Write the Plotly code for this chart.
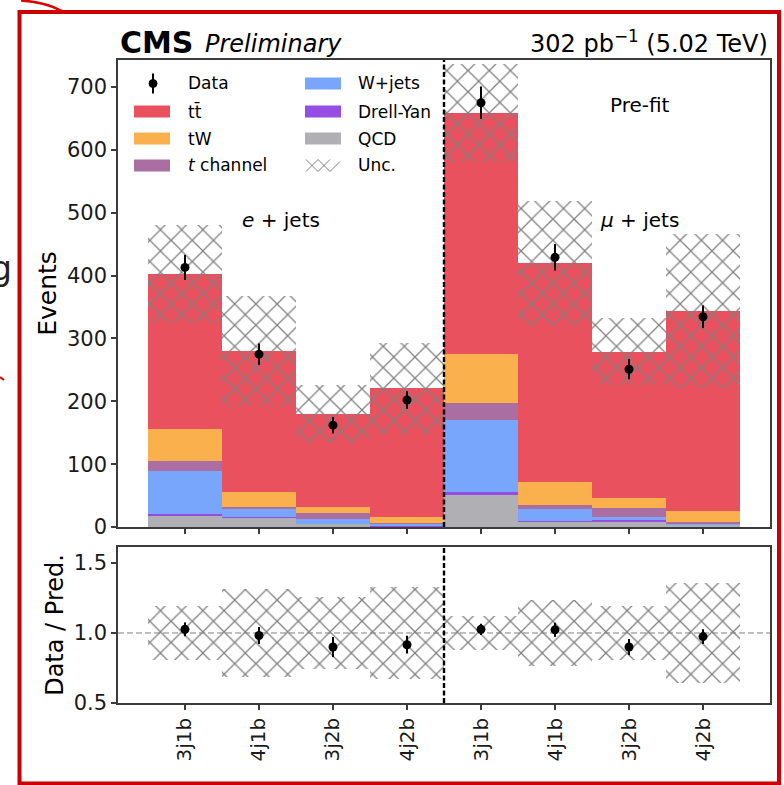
import numpy as np
import plotly.graph_objects as go

# ---- event yields per category (e+jets: first four, mu+jets: last four) ----
categories = ["3j1b", "4j1b", "3j2b", "4j2b", "3j1b", "4j1b", "3j2b", "4j2b"]

qcd = [18, 15, 5, 1.5, 51, 9.5, 8.5, 3.5]
drell_yan = [2, 0.5, 0.5, 0.5, 4.5, 0.5, 2, 0.3]
w_jets = [69.5, 13.5, 7, 3, 115.5, 18.5, 6, 1]
t_channel = [15, 3, 9, 2, 25.5, 6.5, 14, 3.5]
tw = [52, 23.5, 10, 9.5, 79, 36.5, 15, 17]
ttbar = [246, 224.5, 148.5, 204, 382.5, 348, 233.5, 318]

unc = [77.5, 87.5, 46, 73, 78, 99.5, 53, 122.5]
data = [413, 275, 162, 202, 675, 429, 251, 334.5]
data_err = [20, 17, 13, 14, 26, 21, 16, 18]

# stacking order bottom -> top, with colours
processes = [
    ("QCD", qcd, "#b0b0b4"),
    ("Drell-Yan", drell_yan, "#954de4"),
    ("W+jets", w_jets, "#79a6fd"),
    ("t channel", t_channel, "#ab6ea2"),
    ("tW", tw, "#f9b04d"),
    ("ttbar", ttbar, "#e9515e"),
]

# ---- page geometry (pixels) ----
W, H = 784, 785
ML, MR, MT, MB = 118, 14, 60, 82
PW, PH = W - ML - MR, H - MT - MB


def px(x):
    return (x - ML) / PW


def py(y):
    return (H - MB - y) / PH


FONT = "DejaVu Sans"
HATCH = "#7f7f7f"
AXC = "#3c3c3c"

x = np.arange(len(categories))
fig = go.Figure()

bottom = np.zeros(len(categories))
for name, vals, color in processes:
    v = np.asarray(vals, dtype=float)
    fig.add_trace(go.Bar(
        x=x, y=v, base=bottom.copy(), width=1, name=name,
        marker=dict(color=color, line=dict(width=0)),
        showlegend=False, xaxis="x", yaxis="y", hoverinfo="skip"))
    bottom += v
total = bottom
unc_a = np.asarray(unc, dtype=float)
data_a = np.asarray(data, dtype=float)
derr_a = np.asarray(data_err, dtype=float)

hatch = dict(shape="x", fgcolor=HATCH, fgopacity=1, bgcolor="rgba(0,0,0,0)",
             size=15, solidity=0.16, fillmode="overlay")

# uncertainty band on the stack
fig.add_trace(go.Bar(
    x=x, y=2 * unc_a, base=total - unc_a, width=1, name="Unc.",
    marker=dict(color="rgba(0,0,0,0)", line=dict(width=0), pattern=hatch),
    showlegend=False, xaxis="x", yaxis="y", hoverinfo="skip"))

# data points
fig.add_trace(go.Scatter(
    x=x, y=data_a, mode="markers", name="Data",
    marker=dict(color="black", size=9),
    error_y=dict(type="data", array=derr_a, color="black", thickness=2, width=0),
    showlegend=False, xaxis="x", yaxis="y"))

# ---- ratio panel ----
rel = unc_a / total
fig.add_trace(go.Bar(
    x=x, y=2 * rel, base=1 - rel, width=1,
    marker=dict(color="rgba(0,0,0,0)", line=dict(width=0), pattern=hatch),
    showlegend=False, xaxis="x2", yaxis="y2", hoverinfo="skip"))
fig.add_trace(go.Scatter(
    x=x, y=data_a / total, mode="markers",
    marker=dict(color="black", size=9),
    error_y=dict(type="data", array=derr_a / total, color="black", thickness=2, width=0),
    showlegend=False, xaxis="x2", yaxis="y2"))

tickfont = dict(family=FONT, size=21, color="#1a1a1a")
common_axis = dict(showline=True, linecolor=AXC, linewidth=1.5, mirror=True,
                   ticks="outside", ticklen=5, tickwidth=1.5, tickcolor=AXC,
                   showgrid=False, zeroline=False, automargin=False)

xr = [-0.905, 7.905]
fig.update_layout(
    width=W, height=H,
    margin=dict(l=ML, r=MR, t=MT, b=MB),
    paper_bgcolor="white", plot_bgcolor="white",
    barmode="overlay", bargap=0,
    font=dict(family=FONT, color="black"),
    xaxis=dict(domain=[0, 1], range=xr, anchor="y", tickvals=list(x),
               showticklabels=False, **common_axis),
    yaxis=dict(domain=[py(527), 1], range=[0, 743], anchor="x",
               tickvals=[0, 100, 200, 300, 400, 500, 600, 700], tickfont=tickfont,
               title=dict(text="Events", font=dict(family=FONT, size=25), standoff=3),
               **common_axis),
    xaxis2=dict(domain=[0, 1], range=xr, anchor="y2", matches="x",
                tickvals=list(x), ticktext=categories, tickangle=-90,
                tickfont=dict(family=FONT, size=20, color="#1a1a1a"), **common_axis),
    yaxis2=dict(domain=[0, py(547)], range=[0.5, 1.614], anchor="x2",
                tickvals=[0.5, 1.0, 1.5], tickformat=".1f", tickfont=tickfont,
                title=dict(text="Data / Pred.", font=dict(family=FONT, size=24), standoff=3),
                **common_axis),
)

shapes = []
# channel separator
for xa, ya in (("x", "y domain"), ("x2", "y2 domain")):
    shapes.append(dict(type="line", xref=xa, yref=ya, x0=3.5, x1=3.5, y0=0, y1=1,
                       line=dict(color="black", width=2.4, dash="5px,2.5px"), layer="above"))
# unity line in ratio panel
shapes.append(dict(type="line", xref="x2 domain", yref="y2", x0=0, x1=1, y0=1, y1=1,
                   line=dict(color="#808080", width=1, dash="6px,3px"), layer="below"))

annotations = []


def text(xp, yp, s, size, xanchor="left", color="black"):
    annotations.append(dict(xref="paper", yref="paper", x=px(xp), y=py(yp), text=s,
                            showarrow=False, xanchor=xanchor, yanchor="middle",
                            font=dict(family=FONT, size=size, color=color)))


# header
text(118, 42, "<b>CMS</b>", 30)
text(203, 44, "<i>Preliminary</i>", 24)
text(770, 42.5, "302 pb<sup>\u22121</sup> (5.02 TeV)", 24, xanchor="right")
# channel labels
text(281, 220, "<i>e</i> + jets", 20, xanchor="center")
text(639.5, 220, "<i>\u03bc</i> + jets", 20, xanchor="center")
text(639.5, 105, "Pre-fit", 20, xanchor="center")

# legend (two columns)
rows = [83.5, 111.5, 138.5, 165.5]
col1 = [("Data", None), ("tt\u0304", "#e9515e"), ("tW", "#f9b04d"),
        ("<i>t</i> channel", "#ab6ea2")]
col2 = [("W+jets", "#79a6fd"), ("Drell-Yan", "#954de4"), ("QCD", "#b0b0b4"),
        ("Unc.", "hatch")]
for (label, col), ry in zip(col1, rows):
    if col is None:
        shapes.append(dict(type="line", xref="paper", yref="paper",
                           x0=px(153), x1=px(153), y0=py(ry - 10), y1=py(ry + 10),
                           line=dict(color="black", width=2)))
        shapes.append(dict(type="circle", xref="paper", yref="paper",
                           x0=px(149), x1=px(157), y0=py(ry + 4), y1=py(ry - 4),
                           fillcolor="black", line=dict(color="black", width=1)))
    else:
        shapes.append(dict(type="rect", xref="paper", yref="paper",
                           x0=px(134), x1=px(170), y0=py(ry + 6), y1=py(ry - 6),
                           fillcolor=col, line=dict(width=0)))
    text(186, ry, label, 17)
for (label, col), ry in zip(col2, rows):
    if col == "hatch":
        p = (f"M{px(306)},{py(ry + 6)} L{px(318)},{py(ry - 6)} "
             f"M{px(306)},{py(ry - 6)} L{px(318)},{py(ry + 6)} "
             f"M{px(318)},{py(ry + 6)} L{px(330)},{py(ry - 6)} "
             f"M{px(318)},{py(ry - 6)} L{px(330)},{py(ry + 6)} "
             f"M{px(330)},{py(ry + 6)} L{px(340)},{py(ry - 4)}")
        shapes.append(dict(type="path", xref="paper", yref="paper", path=p,
                           line=dict(color=HATCH, width=1)))
    else:
        shapes.append(dict(type="rect", xref="paper", yref="paper",
                           x0=px(305), x1=px(341), y0=py(ry + 6), y1=py(ry - 6),
                           fillcolor=col, line=dict(width=0)))
    text(356, ry, label, 17)

# red outline around the figure
shapes.append(dict(type="rect", xref="paper", yref="paper",
                   x0=px(19.5), x1=px(779), y0=py(783.5), y1=py(12),
                   line=dict(color="#cc0000", width=4), layer="above"))
shapes.append(dict(type="path", xref="paper", yref="paper",
                   path=f"M{px(21)},{py(0.5)} Q{px(45)},{py(2)} {px(62)},{py(11)}",
                   line=dict(color="#dd0000", width=2.5)))
shapes.append(dict(type="line", xref="paper", yref="paper",
                   x0=px(0), x1=px(4), y0=py(377), y1=py(380),
                   line=dict(color="#cc0000", width=2)))
text(14, 268.5, "g", 33, xanchor="right", color="#222222")

fig.update_layout(shapes=shapes, annotations=annotations)
fig.write_html("out.html")
